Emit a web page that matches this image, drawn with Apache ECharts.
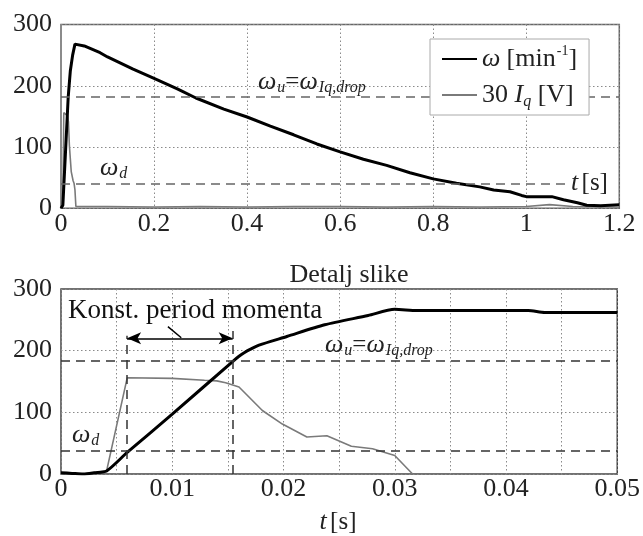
<!DOCTYPE html>
<html>
<head>
<meta charset="utf-8">
<script src="https://cdn.jsdelivr.net/npm/echarts@6/dist/echarts.min.js"></script>
<style>
html,body{margin:0;padding:0;background:#fff;}
#c{width:643px;height:536px;}
</style>
</head>
<body>
<div id="c"></div>
<script>
// ---- data (top: full run) ----
const topOmegaT = [0,0.004,0.01,0.0155,0.02,0.025,0.03,0.05,0.084,0.1,0.155,0.2,0.25,0.29,0.35,0.4,0.45,0.5,0.55,0.6,0.65,0.7,0.75,0.8,0.85,0.9,0.93,0.965,0.99,1.0,1.055,1.08,1.11,1.13,1.16,1.2];
const topOmegaV = [0,5,97,182,224,250,268,265,254,247,227,212,195,180,162,149,134,120,105,92,80,70,58,48,41,35,30,27,21,19,19,14,9,5,4,6];
const topIqT = [0,0.004,0.006,0.01,0.014,0.016,0.018,0.02,0.022,0.024,0.026,0.028,0.03,0.032,0.1,0.2,0.3,0.4,0.5,0.6,0.7,0.8,0.9,1.0,1.05,1.1,1.2];
const topIqV = [0,5,156,155,151,141,103,81,60,62,45,41,30,3,3,2,3,2,3,3,2,3,2,3,6,3,2];
// ---- data (bottom: detail) ----
const detOmegaT = [0,0.001,0.002,0.003,0.0041,0.00595,0.01,0.0154,0.016,0.0165,0.017,0.0178,0.0203,0.0237,0.0276,0.03,0.032,0.042,0.0435,0.05];
const detOmegaV = [2,1,0,2,5,35,97,182,191,197,202,209,223,242,257,267,265,265,262,262];
const detIqT = [0,0.0021,0.0041,0.00595,0.01,0.0129,0.014,0.0148,0.016,0.0181,0.0199,0.0221,0.0239,0.0261,0.028,0.03,0.0316];
const detIqV = [1,0,5,156,155,152,151,148,141,103,81,60,62,45,41,30,0];
// reference levels
const topOmegaU = 182, topOmegaD = 40;
const detOmegaU = 183, detOmegaD = 37;
const periodStart = 0.00594, periodEnd = 0.01543;
const yTicks = [0,100,200,300];

const zip = (a,b) => a.map((v,i)=>[v,b[i]]);
const FONT = 'Liberation Serif';

const chart = echarts.init(document.getElementById('c'), null, {renderer:'canvas'});

function gridLine(){ return {show:true, lineStyle:{color:'#8a8a8a', type:[1.5,2.5], width:1}}; }
function yAx(gi){
  return {type:'value', gridIndex:gi, min:yTicks[0], max:yTicks[yTicks.length-1], interval:100,
    axisLine:{show:false}, axisTick:{show:false}, splitLine:gridLine(),
    axisLabel:{fontFamily:FONT, fontSize:26, color:'#222', margin:9}};
}
const dashTop = {color:'#666', width:1.6, type:[9,6]};
const dashBot = {color:'#333', width:1.5, type:[9,6]};
const W = {fontFamily:FONT, fontStyle:'italic', fontSize:26, fill:'#222'};
const S = {fontFamily:FONT, fontStyle:'italic', fontSize:16, fill:'#222', padding:[12,0,0,1]};
const E = {fontFamily:FONT, fontSize:25, fill:'#222'};

const option = {
  animation:false,
  backgroundColor:'#fff',
  grid:[
    {left:61, top:24.5, right:23.7, height:183.8, show:true, borderColor:'#666', borderWidth:1.5, backgroundColor:'transparent'},
    {left:61, top:289, right:23.7, height:185, show:true, borderColor:'#444', borderWidth:1.5, backgroundColor:'transparent'}
  ],
  xAxis:[
    {type:'value', gridIndex:0, min:0, max:1.2, interval:0.2, axisLine:{show:false}, axisTick:{show:false},
     splitLine:gridLine(),
     axisLabel:{fontFamily:FONT, fontSize:26, color:'#222', margin:3,
       formatter:v=>String(parseFloat(v.toFixed(3)))}},
    {type:'value', gridIndex:1, min:0, max:0.05, interval:0.005, axisLine:{show:false}, axisTick:{show:false},
     splitLine:gridLine(),
     axisLabel:{fontFamily:FONT, fontSize:26, color:'#222', margin:2,
       formatter:v=>{const k=Math.round(v*1000); return (k%10===0)? String(parseFloat(v.toFixed(3))) : '';}}}
  ],
  yAxis:[yAx(0), yAx(1)],
  legend:{
    z:20, left:430, top:39, orient:'vertical',
    backgroundColor:'#fff', borderColor:'#aaa', borderWidth:1,
    padding:[5,12,5,11], itemGap:6, itemWidth:35, itemHeight:14,
    itemStyle:{color:'transparent', borderColor:'transparent', borderWidth:0, opacity:0},
    data:['omega','iq'],
    formatter:function(name){
      if(name==='omega') return '{i|ω} {n|[min}{sup|-1}{n|]}';
      return '{n|30 }{i|I}{sub|q}{n| [V]}';
    },
    textStyle:{fontFamily:FONT, fontSize:25, color:'#222', lineHeight:30,
      rich:{
        i:{fontFamily:FONT, fontStyle:'italic', fontSize:26, color:'#222', lineHeight:30},
        n:{fontFamily:FONT, fontSize:26, color:'#222', lineHeight:30},
        sup:{fontFamily:FONT, fontSize:14, color:'#222', verticalAlign:'top', lineHeight:30, padding:[0,0,12,1]},
        sub:{fontFamily:FONT, fontStyle:'italic', fontSize:16, color:'#222', verticalAlign:'bottom', lineHeight:30, padding:[10,0,0,0]}
      }}
  },
  series:[
    {name:'iq', type:'line', xAxisIndex:0, yAxisIndex:0, data:zip(topIqT, topIqV), symbol:'none',
     lineStyle:{color:'#7a7a7a', width:1.6}, itemStyle:{color:'#7a7a7a'}, z:3,
     markLine:{silent:true, symbol:'none', label:{show:false}, lineStyle:dashTop,
       data:[[{coord:[0,topOmegaU]},{coord:[1.2,topOmegaU]}],[{coord:[0,topOmegaD]},{coord:[1.087,topOmegaD]}]]}},
    {name:'omega', type:'line', xAxisIndex:0, yAxisIndex:0, data:zip(topOmegaT, topOmegaV), symbol:'none',
     lineStyle:{color:'#000', width:3}, itemStyle:{color:'#000'}, z:4},
    {name:'iq', type:'line', xAxisIndex:1, yAxisIndex:1, data:zip(detIqT, detIqV), symbol:'none',
     lineStyle:{color:'#7a7a7a', width:1.6}, itemStyle:{color:'#7a7a7a'}, z:3,
     markLine:{silent:true, symbol:'none', label:{show:false}, lineStyle:dashBot,
       data:[
         [{coord:[0,detOmegaU]},{coord:[0.05,detOmegaU]}],
         [{coord:[0,detOmegaD]},{coord:[0.05,detOmegaD]}],
         [{coord:[periodStart,0]},{coord:[periodStart,224]}],
         [{coord:[periodEnd,0]},{coord:[periodEnd,232]}]
       ]}},
    {name:'omega', type:'line', xAxisIndex:1, yAxisIndex:1, data:zip(detOmegaT, detOmegaV), symbol:'none',
     smooth:0.25,
     lineStyle:{color:'#000', width:3}, itemStyle:{color:'#000'}, z:4,
     markLine:{silent:true, label:{show:false},
       data:[
         [{coord:[periodStart,220], symbol:'arrow', symbolSize:[9,14]},{coord:[periodEnd,220], symbol:'arrow', symbolSize:[9,14]}],
         [{coord:[0.00961,239], symbol:'none'},{coord:[0.01081,221], symbol:'none'}]
       ],
       lineStyle:{color:'#000', width:1.5, type:'solid'}}}
  ],
  graphic:[
    {type:'text', x:258, y:82, z:10, style:{text:'{w|ω}{s|u}{e|=}{w|ω}{s|Iq,drop}', verticalAlign:'middle', align:'left',
      rich:{w:W, s:S, e:E}}},
    {type:'text', x:100, y:168, z:10, style:{text:'{w|ω}{s|d}', verticalAlign:'middle', align:'left',
      rich:{w:W, s:S}}},
    {type:'text', x:571, y:183, z:10, style:{text:'{i|t} {n|[s]}', verticalAlign:'middle', align:'left',
      rich:{i:W, n:E}}},
    {type:'text', x:349, y:275, z:10, style:{text:'Detalj slike', fontFamily:FONT, fontSize:26, fill:'#222', align:'center', verticalAlign:'middle'}},
    {type:'text', x:68, y:311, z:10, style:{text:'Konst. period momenta', fontFamily:FONT, fontSize:27, fill:'#111', align:'left', verticalAlign:'middle'}},
    {type:'text', x:325, y:345, z:10, style:{text:'{w|ω}{s|u}{e|=}{w|ω}{s|Iq,drop}', verticalAlign:'middle', align:'left',
      rich:{w:W, s:S, e:E}}},
    {type:'text', x:72, y:435, z:10, style:{text:'{w|ω}{s|d}', verticalAlign:'middle', align:'left',
      rich:{w:W, s:S}}},
    {type:'text', x:338, y:522, z:10, style:{text:'{i|t} {n|[s]}', verticalAlign:'middle', align:'center',
      rich:{i:W, n:E}}}
  ]
};
chart.setOption(option);
</script>
</body>
</html>
